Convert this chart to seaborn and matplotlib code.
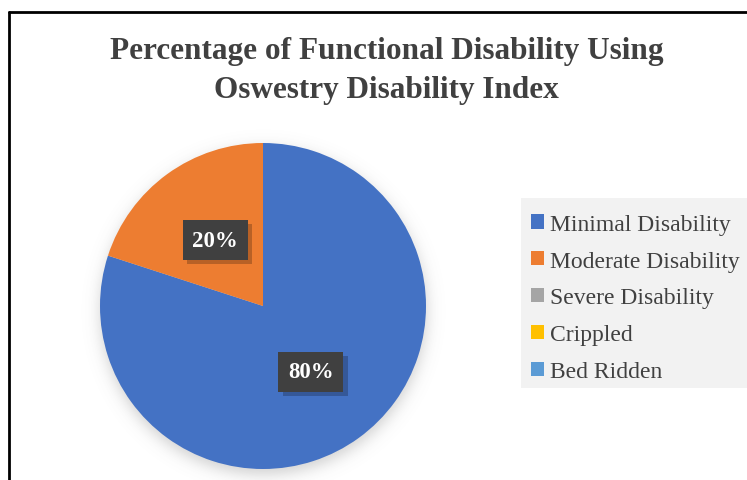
import numpy as np
import matplotlib
matplotlib.use("Agg")
import matplotlib.pyplot as plt
import matplotlib.patheffects as pe
from matplotlib.patches import Patch
from matplotlib.lines import Line2D
import seaborn as sns

# Oswestry Disability Index categories and their share of respondents (%)
categories = ["Minimal Disability", "Moderate Disability", "Severe Disability",
              "Crippled", "Bed Ridden"]
percentages = [80, 20, 0, 0, 0]
colors = ["#4472C4", "#ED7D31", "#A5A5A5", "#FFC000", "#5B9BD5"]
title = "Percentage of Functional Disability Using\nOswestry Disability Index"

sns.set_theme(style="white")
plt.rcParams["font.family"] = ["Liberation Serif", "DejaVu Serif"]

W, H = 747, 481
fig = plt.figure(figsize=(W / 100, H / 100), dpi=100)
ax = fig.add_axes([0, 0, 1, 1])

cx, cy, R = 263, H - 307, 163

# soft drop shadow under the pie
yy, xx = np.mgrid[0:H, 0:W]
d = np.hypot(xx - cx, yy - (cy - 6))
alpha = 0.28 * 0.5 * (1 - np.tanh((d - R) / 9.0))
shadow = np.zeros((H, W, 4))
shadow[..., :3] = 0.35
shadow[..., 3] = alpha
ax.imshow(shadow, extent=(0, W, 0, H), origin="lower", zorder=0, interpolation="bilinear")

nonzero = [(c, p, col) for c, p, col in zip(categories, percentages, colors) if p > 0]
wedges, _ = ax.pie([p for _, p, _ in nonzero], colors=[col for _, _, col in nonzero],
                   startangle=90, counterclock=False, center=(cx, cy), radius=R,
                   wedgeprops=dict(linewidth=0), frame=True)
ax.set_xlim(0, W)
ax.set_ylim(0, H)
ax.set_aspect("equal")
ax.axis("off")

# percentage labels in dark boxes
total = sum(percentages)
start = 90.0
for _, p, _ in nonzero:
    sweep = 360.0 * p / total
    mid = np.deg2rad(start - sweep / 2)
    start -= sweep
    tx = cx + 0.5 * R * np.cos(mid)
    ty = cy + 0.5 * R * np.sin(mid)
    t = ax.text(tx, ty, f"{p}%", color="white", fontsize=16.5, fontweight="bold",
                ha="center", va="center", zorder=5,
                bbox=dict(boxstyle="square,pad=0.42", facecolor="#404040", edgecolor="none"))
    t.get_bbox_patch().set_path_effects([
        pe.SimplePatchShadow(offset=(3, -3), shadow_rgbFace="black", alpha=0.22),
        pe.Normal()])

# title
fig.text(0.5 * (108 + 665) / W, 1 - 71 / H, title, ha="center", va="center",
         fontsize=22.5, fontweight="bold", color="#404040", linespacing=1.45)

# legend panel
ax.add_patch(plt.Rectangle((521, H - 389), 240, 190, facecolor="#F2F2F2",
                           edgecolor="none", zorder=1))
handles = [Patch(facecolor=c, edgecolor="none") for c in colors]
leg = ax.legend(handles, categories, loc="upper left",
                bbox_to_anchor=(519 / W, 1 - 203 / H), frameon=False,
                fontsize=17, handlelength=0.55, handleheight=0.55,
                handletextpad=0.25, labelspacing=0.67, borderpad=0)
for txt in leg.get_texts():
    txt.set_color("#404040")

# outer border (top and left edges)
fig.add_artist(Line2D([9 / W, 1], [1 - 13 / H, 1 - 13 / H], color="black", lw=2,
                      transform=fig.transFigure))
fig.add_artist(Line2D([9 / W, 9 / W], [0, 1 - 13 / H], color="black", lw=2,
                      transform=fig.transFigure))

fig.savefig("out.png", dpi=100)
